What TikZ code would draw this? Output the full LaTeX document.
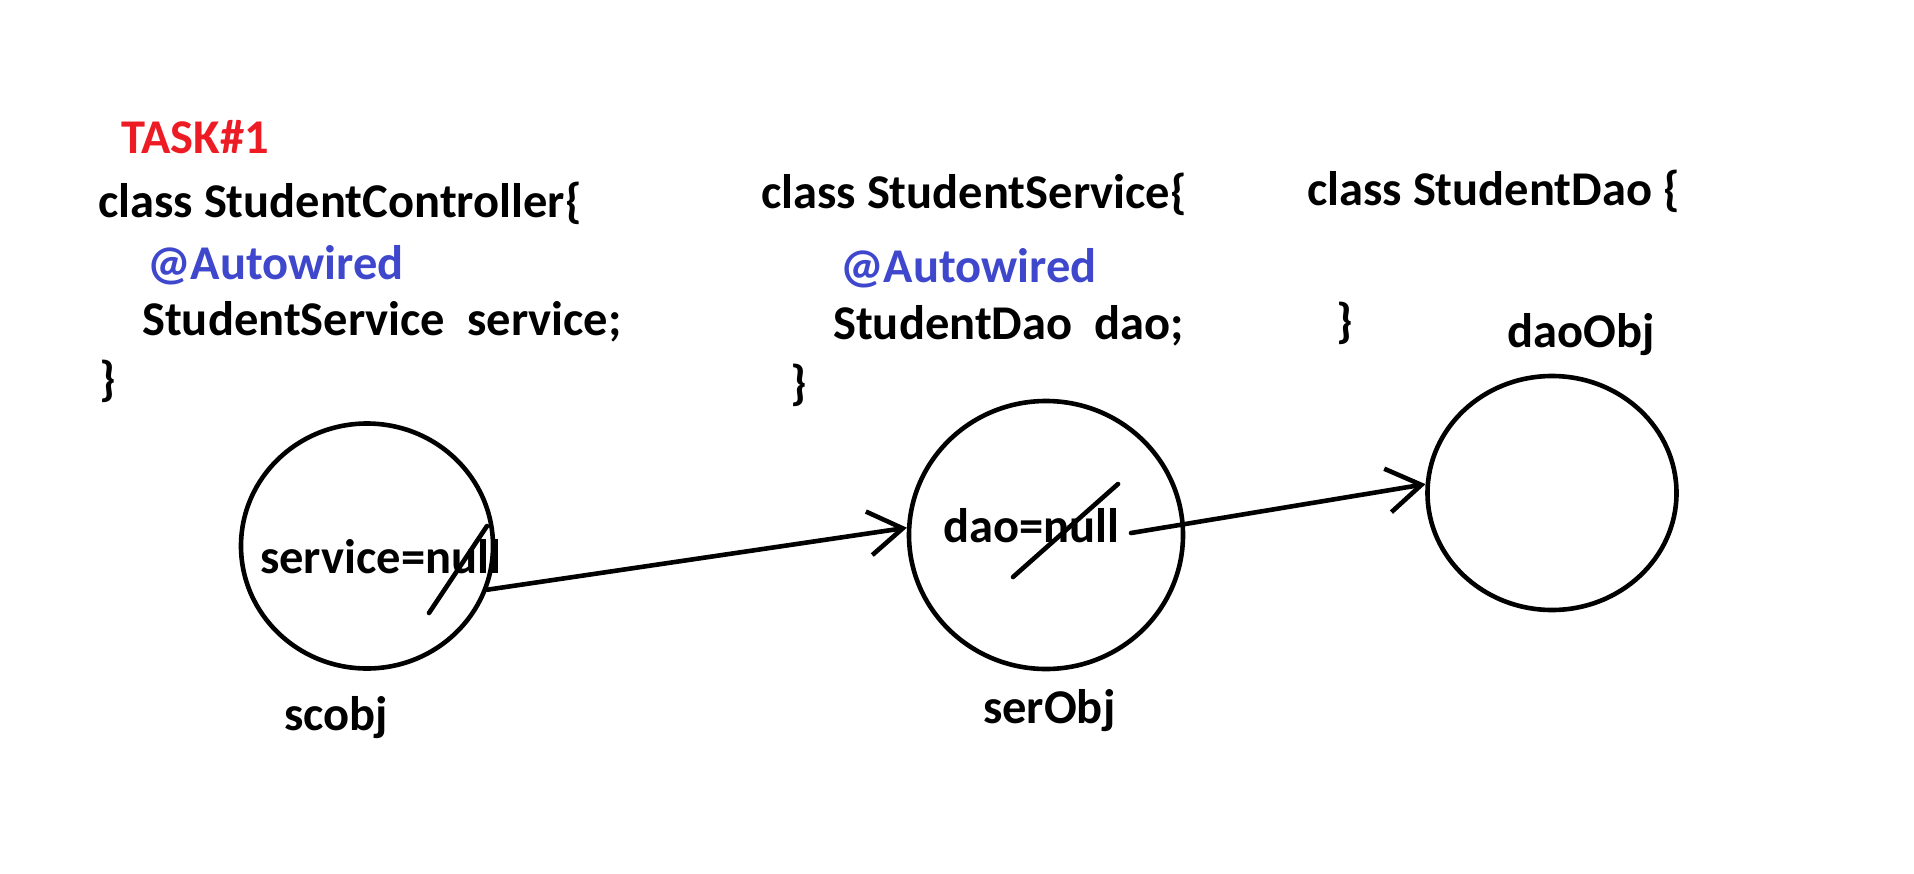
\documentclass[tikz,border=0pt]{standalone}
\usepackage{fontspec}
\setmainfont{Carlito}
\usepackage{xcolor}
\usepackage{tikz}
\usetikzlibrary{arrows.meta,shapes.geometric}
\definecolor{taskred}{HTML}{ED1C24}
\definecolor{annoblue}{HTML}{3F48CC}

\begin{document}
\begin{tikzpicture}[x=1pt,y=-1pt,
  code/.style={anchor=base west,inner sep=0pt,font=\fontsize{48.5}{54}\selectfont\bfseries},
  obj/.style={ellipse,draw=black,line width=4.6pt,inner sep=0pt},
  ref/.style={-{Straight Barb[length=34pt,width=44pt]},line width=4.6pt,line cap=round},
  strike/.style={line width=4.6pt,line cap=round}]
\useasboundingbox (0,0) rectangle (1914,873);
% class texts
\node[code,text=taskred] (task) at (121,153) {TASK\#1};
\node[code] (c1) at (98,217) {class StudentController\{};
\node[code,text=annoblue] (a1) at (147,279) {@Autowired};
\node[code] (f1) at (142,335) {StudentService\ \ service;};
\node[code] (e1) at (99,395) {\}};
\node[code] (c2) at (761,208) {class StudentService\{};
\node[code,text=annoblue] (a2) at (840,282) {@Autowired};
\node[code] (f2) at (833,339) {StudentDao\ \ dao;};
\node[code] (e2) at (790,399) {\}};
\node[code] (c3) at (1307,205) {class StudentDao \{};
\node[code] (e3) at (1336,337) {\}};
% objects
\node[obj,minimum width=252pt,minimum height=245pt] (o1) at (367,546) {};
\node[obj,minimum width=274pt,minimum height=268pt] (o2) at (1046,535) {};
\node[obj,minimum width=249pt,minimum height=234pt] (o3) at (1552,493) {};
\node[code] (sn) at (260,573) {service=null};
\node[code] (dn) at (943,542) {dao=null};
\node[code] (l1) at (284,730) {scobj};
\node[code] (l2) at (983,723) {serObj};
\node[code] (l3) at (1507,347) {daoObj};
\draw[strike] (429,613) -- (487,526);
\draw[strike] (1013,577) -- (1118,484);
\coordinate (d2) at (1131,533);
\draw[ref] (o1.-20) -- (o2.177);
\draw[ref] (d2) -- (o3.176);
\end{tikzpicture}
\end{document}
